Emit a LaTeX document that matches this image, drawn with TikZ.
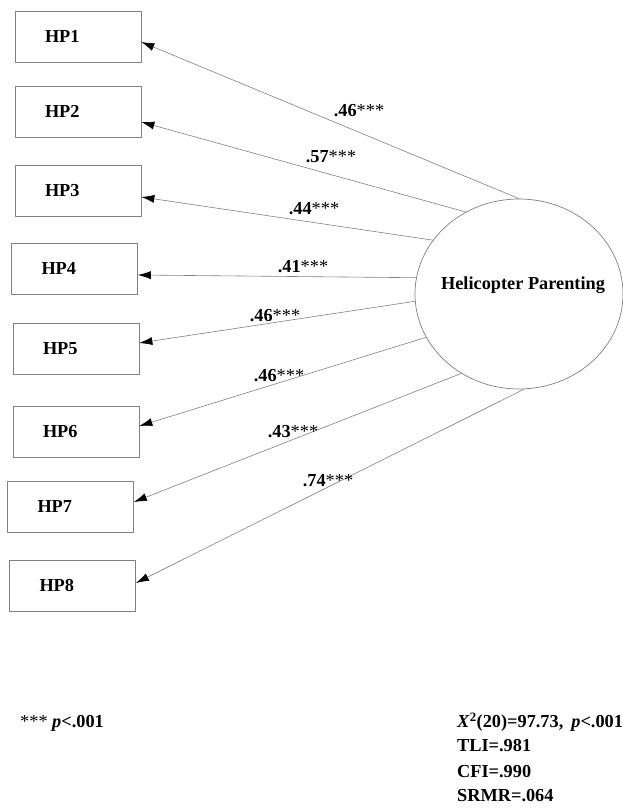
\documentclass[tikz,border=0pt]{standalone}
\usepackage{fontspec}
\setmainfont{Liberation Serif}
\usetikzlibrary{arrows.meta,shapes.geometric}
\tikzset{
  item/.style={draw=gray,line width=0.7bp,rectangle,minimum height=51bp,inner xsep=30bp,text width=66bp,align=left,font=\fontsize{18.3bp}{22bp}\selectfont\bfseries},
  latent/.style={draw=gray,line width=0.7bp,ellipse,minimum width=208bp,minimum height=190bp,inner sep=0pt,font=\fontsize{18.3bp}{22bp}\selectfont\bfseries},
  load/.style={inner sep=0pt,anchor=base,font=\fontsize{18.3bp}{22bp}\selectfont\bfseries},
  note/.style={inner sep=0pt,anchor=base west,font=\fontsize{18.3bp}{22bp}\selectfont\bfseries},
}
\begin{document}
\begin{tikzpicture}[>={Latex[black,length=13bp,width=8bp]},line join=bevel,]
%%
\useasboundingbox (0bp,0bp) rectangle (623bp,809bp);
\node (factor) at (519bp,515bp) [latent] {\raisebox{4bp}[0pt][0pt]{\makebox[0pt]{\hspace*{8bp}Helicopter Parenting}}};
  \node (item_1) at (78bp,772.5bp) [item] {HP1};
  \node (item_2) at (78bp,697.5bp) [item] {HP2};
  \node (item_3) at (78bp,618bp) [item] {HP3};
  \node (item_4) at (74.5bp,540.5bp) [item] {HP4};
  \node (item_5) at (76bp,460.5bp) [item] {HP5};
  \node (item_6) at (76bp,377bp) [item] {HP6};
  \node (item_7) at (70.5bp,302bp) [item] {HP7};
  \node (item_8) at (72.5bp,223bp) [item] {HP8};
  \draw [gray,line width=0.6bp,->] (factor.90) -- ([yshift=-5.5bp]item_1.east);
  \draw [gray,line width=0.6bp,->] (factor.123) -- ([yshift=-10.5bp]item_2.east);
  \draw [gray,line width=0.6bp,->] (factor.148) -- ([yshift=-6bp]item_3.east);
  \draw [gray,line width=0.6bp,->] (factor.171) -- ([yshift=-6.5bp]item_4.east);
  \draw [gray,line width=0.6bp,->] (factor.184) -- ([yshift=5.5bp]item_5.east);
  \draw [gray,line width=0.6bp,->] (factor.205) -- ([yshift=6bp]item_6.east);
  \draw [gray,line width=0.6bp,->] (factor.234) -- ([yshift=5bp]item_7.east);
  \draw [gray,line width=0.6bp,->] (factor.273) -- ([yshift=3bp]item_8.east);
%
  \node (load_1) at (359bp,692bp) [load] {.46{\mdseries***}};
  \node (load_2) at (331bp,646bp) [load] {.57{\mdseries***}};
  \node (load_3) at (314bp,594bp) [load] {.44{\mdseries***}};
  \node (load_4) at (303bp,536bp) [load] {.41{\mdseries***}};
  \node (load_5) at (275bp,487bp) [load] {.46{\mdseries***}};
  \node (load_6) at (279bp,427bp) [load] {.46{\mdseries***}};
  \node (load_7) at (293bp,371bp) [load] {.43{\mdseries***}};
  \node (load_8) at (328bp,322bp) [load] {.74{\mdseries***}};
%
  \node (note_0) at (20bp,81bp) [note] {{\mdseries***} \textit{p}<.001};
  \node (fit_1) at (457bp,81bp) [note] {\textit{X}\textsuperscript{2}(20)=97.73,\hspace{8bp}\textit{p}<.001};
  \node (fit_2) at (457bp,57bp) [note] {TLI=.981};
  \node (fit_3) at (457bp,32bp) [note] {CFI=.990};
  \node (fit_4) at (457bp,8bp) [note] {SRMR=.064};
%
\end{tikzpicture}
\end{document}
